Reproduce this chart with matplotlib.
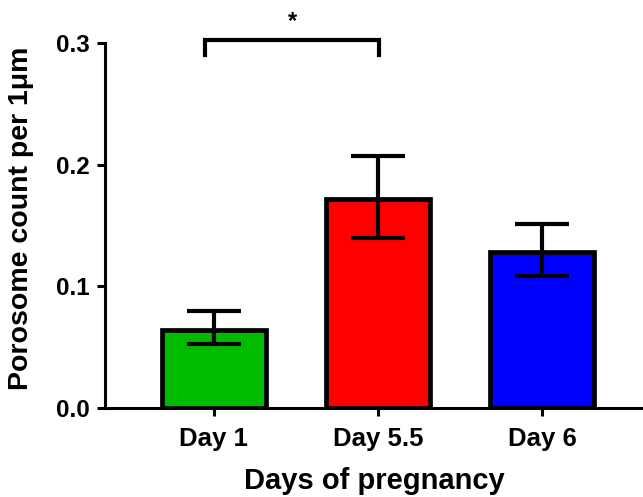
import numpy as np
import matplotlib
matplotlib.use("Agg")
import matplotlib.pyplot as plt

plt.rcParams['font.family'] = ['Liberation Sans', 'DejaVu Sans']
plt.rcParams['font.weight'] = 'bold'

days = ['Day 1', 'Day 5.5', 'Day 6']
means = [0.064, 0.1715, 0.128]
upper = [0.080, 0.2075, 0.1515]
lower = [0.0525, 0.140, 0.1085]
colors = ['#00bb00', '#ff0000', '#0000ff']

x = np.arange(len(days))
yerr = [np.array(means) - np.array(lower), np.array(upper) - np.array(means)]

fig = plt.figure(figsize=(6.43, 4.97), dpi=100)
ax = fig.add_axes([0.163, 0.179, 0.837, 0.7345])

ax.bar(x, means, width=0.634, color=colors, edgecolor='black', linewidth=3.4, zorder=2)
ax.errorbar(x, means, yerr=yerr, fmt='none', ecolor='black', elinewidth=3,
            capsize=19.5, capthick=3, zorder=3)

ax.set_xlim(-0.665, 2.616)
ax.set_ylim(0, 0.3)
ax.set_yticks([0.0, 0.1, 0.2, 0.3])
ax.set_yticklabels(['0.0', '0.1', '0.2', '0.3'])
ax.set_xticks(x)
ax.set_xticklabels(days)

for s in ['top', 'right']:
    ax.spines[s].set_visible(False)
for s in ['left', 'bottom']:
    ax.spines[s].set_linewidth(2.2)
ax.tick_params(width=2.2, length=6, labelsize=17.5, pad=5)
ax.tick_params(axis='x', pad=8, labelsize=18.5)

ax.set_xlabel('Days of pregnancy', fontsize=21, fontweight='bold', labelpad=11)
ax.set_ylabel('Porosome count per 1\u03bcm', fontsize=20.5, fontweight='bold')
ax.yaxis.set_label_coords(-0.132, 0.52)

# significance bracket
ax.plot([-0.055, -0.055, 1.006, 1.006], [0.290, 0.3027, 0.3027, 0.290],
        color='black', linewidth=3, clip_on=False, solid_joinstyle='miter')
ax.text(0.48, 0.3175, '*', ha='center', va='center', fontsize=17, fontweight='bold')

fig.savefig('out.png', dpi=100)
